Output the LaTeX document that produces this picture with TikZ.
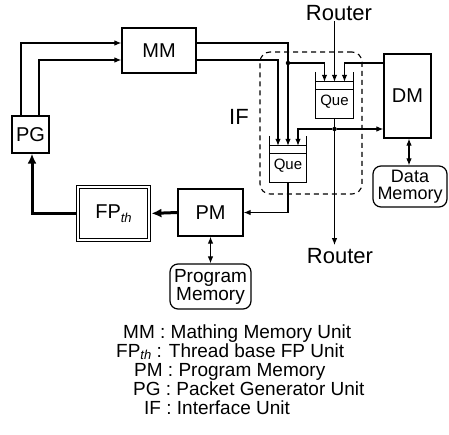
\documentclass[tikz,border=0pt]{standalone}
\usepackage{fontspec}
\setmainfont{Liberation Sans}
\usetikzlibrary{arrows.meta,calc}
\newcommand\thsub[1]{\raisebox{-#1}{\fontsize{13}{13}\selectfont\itshape th}}
\tikzset{
  box/.style={draw, line width=1.2pt, inner sep=0pt, font=\fontsize{20}{22}\selectfont},
  mem/.style={draw, line width=1.2pt, rounded corners=8pt, inner sep=0pt, align=center},
  quebox/.style={inner sep=0pt, minimum width=37pt, minimum height=46pt},
  quetxt/.style={inner sep=0pt, font=\fontsize{15}{17}\selectfont},
  arr/.style={line width=1.1pt, -{Latex[length=7pt,width=5.5pt]}},
  darr/.style={line width=1.1pt, {Latex[length=7pt,width=5.5pt]}-{Latex[length=7pt,width=5.5pt]}},
  tarr/.style={line width=3pt, -{Latex[length=10pt,width=9pt]}},
  dot/.style={circle, fill, inner sep=0pt, minimum size=4.5pt},
  lbl/.style={inner sep=0pt, font=\fontsize{22}{24}\selectfont},
  leg/.style={inner sep=0pt, anchor=base west, font=\fontsize{19}{20}\selectfont},
}
\begin{document}
\begin{tikzpicture}[x=1pt,y=-1pt]
\useasboundingbox (0,0) rectangle (449,434);
% IF dashed box
\node[draw, dashed, dash pattern=on 5pt off 4pt, line width=1.1pt, rounded corners=10pt,
      minimum width=102pt, minimum height=142pt, inner sep=0pt] (IFbox) at (311,123) {};
\node[lbl] (IF) at (239,117) {IF};
% boxes
\node[box, minimum width=74pt, minimum height=45pt] (MM) at (159,50.5) {MM};
\node[box, minimum width=37pt, minimum height=37pt] (PG) at (30.5,134.5) {PG};
\node[box, minimum width=71pt, minimum height=53pt, double, double distance=2.4pt] (FP) at (113.5,213.5) {FP\thsub{4pt}};
\node[box, minimum width=65pt, minimum height=47pt] (PM) at (210.5,212.5) {PM};
\node[box, minimum width=47pt, minimum height=84pt] (DM) at (407.5,96) {DM};
\node[mem, minimum width=81pt, minimum height=45pt, font=\fontsize{19}{18}\selectfont] (PMem) at (210.5,286.5) {Program\\Memory};
\node[mem, minimum width=74pt, minimum height=41pt, font=\fontsize{18}{17}\selectfont] (DMem) at (410,186.5) {Data\\Memory};
% queues
\node[quebox] (qt) at (334.5,95) {};
\node[quetxt] (qtl) at ([yshift=-7pt]qt.center) {Que};
\node[quebox] (qb) at (288,159) {};
\node[quetxt] (qbl) at ([yshift=-7pt]qb.center) {Que};
\foreach \q in {qt,qb}{
  \draw[line width=1.2pt] (\q.north west) -- (\q.south west) -- (\q.south east) -- (\q.north east);
  \draw[line width=1.1pt] ([yshift=-10pt]\q.north west) -- ([yshift=-10pt]\q.north east);
  \draw[line width=1.1pt] ([yshift=-18pt]\q.north west) -- ([yshift=-18pt]\q.north east);
}
\coordinate (qt1) at ([xshift=-10pt,yshift=-10pt]qt.north);
\coordinate (qt2) at ([yshift=-10pt]qt.north);
\coordinate (qt3) at ([xshift=10pt,yshift=-10pt]qt.north);
\coordinate (qb1) at ([xshift=-10pt,yshift=-10pt]qb.north);
\coordinate (qb2) at ([yshift=-10pt]qb.north);
\coordinate (qb3) at ([xshift=10pt,yshift=-10pt]qb.north);
% routers
\node[lbl] (rtop) at (339,13) {Router};
\node[lbl] (rbot) at (340,256) {Router};
% dots
\node[dot] (d1) at (288,63) {};
\node[dot] (d2) at (334.5,129) {};
% connectors
\draw[arr] ([xshift=-9.5pt]PG.north) |- ([yshift=7.5pt]MM.west);
\draw[arr] ([xshift=8.5pt]PG.north) |- ([yshift=-9.5pt]MM.west);
\draw[arr] ([yshift=7.5pt]MM.east) -| (qb2);
\draw[arr] ([yshift=-9.5pt]MM.east) -| (qb1);
\draw[arr] (d1) -| (qt1);
\draw[arr] ([yshift=33pt]DM.west) -| (qt3);
\draw[arr] (rtop.south -| qt2) -- (qt2);
\draw[arr] (qt.south) -- ([yshift=3pt]qt.south |- rbot.north);
\draw[arr] (d2) -- (DM.west |- d2);
\draw[arr] (d2) -| (qb3);
\draw[arr] (qb.south) |- (PM.east);
\draw[tarr, shorten >=1.8pt] (PM.west) -- (FP.east);
\draw[tarr, shorten <=1.8pt] (FP.west) -| ([xshift=1.5pt]PG.south);
\draw[darr] (PM.south) -- (PMem.north);
\draw[darr] ([xshift=1.5pt]DM.south) -- ([xshift=1.5pt]DM.south |- DMem.north);
% legend
\node[leg] (l1) at (123,338) {MM : Mathing Memory Unit};
\node[leg] (l2) at (116,357) {FP\thsub{2.5pt} : Thread base FP Unit};
\node[leg] (l3) at (134,376) {PM : Program Memory};
\node[leg] (l4) at (133,395) {PG : Packet Generator Unit};
\node[leg] (l5) at (144,414) {IF : Interface Unit};
\end{tikzpicture}
\end{document}
